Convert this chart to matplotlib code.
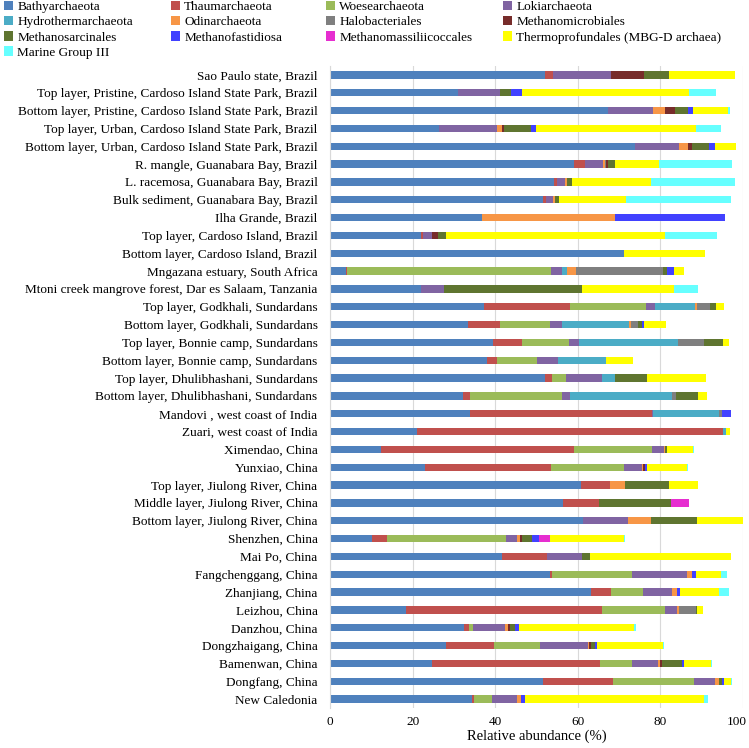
import matplotlib
matplotlib.use("Agg")
import matplotlib.pyplot as plt
import matplotlib.transforms as mtransforms
import numpy as np

plt.rcParams['font.family'] = ['Liberation Serif', 'DejaVu Serif']

# sites, top to bottom
sites = [
    "Sao Paulo state, Brazil",
    "Top layer, Pristine, Cardoso Island State Park, Brazil",
    "Bottom layer, Pristine, Cardoso Island State Park, Brazil",
    "Top layer, Urban, Cardoso Island State Park, Brazil",
    "Bottom layer, Urban, Cardoso Island State Park, Brazil",
    "R. mangle, Guanabara Bay, Brazil",
    "L. racemosa, Guanabara Bay, Brazil",
    "Bulk sediment, Guanabara Bay, Brazil",
    "Ilha Grande, Brazil",
    "Top layer, Cardoso Island, Brazil",
    "Bottom layer, Cardoso Island, Brazil",
    "Mngazana estuary, South Africa",
    "Mtoni creek mangrove forest, Dar es Salaam, Tanzania",
    "Top layer, Godkhali, Sundardans",
    "Bottom layer, Godkhali, Sundardans",
    "Top layer, Bonnie camp, Sundardans",
    "Bottom layer, Bonnie camp, Sundardans",
    "Top layer, Dhulibhashani, Sundardans",
    "Bottom layer, Dhulibhashani, Sundardans",
    "Mandovi , west coast of India",
    "Zuari, west coast of India",
    "Ximendao, China",
    "Yunxiao, China",
    "Top layer, Jiulong River, China",
    "Middle layer, Jiulong River, China",
    "Bottom layer, Jiulong River, China",
    "Shenzhen, China",
    "Mai Po, China",
    "Fangchenggang, China",
    "Zhanjiang, China",
    "Leizhou, China",
    "Danzhou, China",
    "Dongzhaigang, China",
    "Bamenwan, China",
    "Dongfang, China",
    "New Caledonia",
]

bathyarchaeota = [52.0, 31.1, 67.2, 26.4, 73.8, 59.1, 54.2, 51.5, 36.7, 22.0, 71.1, 3.9,
                  22.1, 37.2, 33.4, 39.5, 38.1, 52.0, 32.3, 34.0, 21.0, 12.3, 22.9, 60.7,
                  56.5, 61.2, 10.1, 41.6, 53.3, 63.3, 18.4, 32.4, 28.1, 24.6, 51.5, 34.3]
thaumarchaeota = [2.0, 0, 0, 0, 0, 2.6, 0.8, 0.8, 0, 0.6, 0, 0.3,
                  0, 20.9, 7.8, 6.9, 2.3, 1.7, 1.7, 43.9, 74.2, 46.8, 30.6, 7.0,
                  8.6, 0, 3.7, 11.0, 0.5, 4.8, 47.5, 1.2, 11.7, 40.7, 17.0, 0.5]
woesearchaeota = [0, 0, 0, 0, 0, 0, 0, 0, 0, 0, 0, 49.4,
                  0, 18.5, 12.0, 11.5, 9.7, 3.4, 22.2, 0, 0, 18.9, 17.7, 0,
                  0, 0, 28.7, 0, 19.3, 7.7, 15.1, 1.0, 11.0, 7.9, 19.6, 4.4]
lokiarchaeota = [14.0, 10.1, 10.9, 14.0, 10.6, 4.3, 2.0, 1.8, 0, 2.1, 0, 2.6,
                 5.6, 2.0, 2.9, 2.4, 5.2, 8.7, 1.9, 0.3, 0, 2.8, 4.4, 0,
                 0, 11.0, 2.7, 8.5, 13.3, 6.9, 3.0, 7.7, 11.6, 6.2, 5.2, 6.1]
hydrothermarchaeota = [0, 0, 0, 0, 0, 0, 0, 0, 0, 0, 0, 1.2,
                       0, 9.7, 16.3, 23.9, 11.6, 3.2, 24.7, 16.1, 0.8, 0, 0, 0,
                       0, 0, 0, 0, 0, 0, 0, 0, 0, 0, 0, 0]
odinarchaeota = [0, 0, 3.1, 1.2, 2.4, 0.5, 0.3, 0.3, 32.4, 0, 0, 2.2,
                 0, 0.5, 0.6, 0, 0, 0, 0, 0, 0, 0.3, 0.3, 3.7,
                 0, 5.6, 0.8, 0, 1.2, 1.3, 0.4, 0.7, 0.3, 0.5, 0.9, 1.0]
halobacteriales = [0, 0, 0, 0, 0, 0.3, 0, 0, 0, 0, 0, 21.0,
                   0, 3.2, 1.5, 6.3, 0, 0, 1.0, 0.6, 0, 0, 0, 0,
                   0, 0, 0, 0, 0, 0, 4.2, 0, 0, 0, 0, 0]
methanomicrobiales = [8.0, 0, 2.4, 0.6, 0.8, 0.5, 0, 0, 0, 1.4, 0, 0,
                      0, 0, 0, 0, 0, 0, 0, 0, 0, 0, 0.3, 0,
                      0, 0, 0.6, 0, 0, 0, 0, 0.6, 0.4, 0.5, 0, 0]
methanosarcinales = [6.0, 2.7, 3.0, 6.5, 4.1, 1.6, 1.3, 1.0, 0, 1.9, 0, 1.0,
                     33.4, 1.5, 1.0, 4.7, 0, 7.7, 5.3, 0, 0, 0.4, 0, 10.6,
                     17.5, 11.1, 2.2, 1.9, 0, 0, 0.2, 1.2, 1.0, 4.8, 0.6, 0]
methanofastidiosa = [0, 2.7, 1.2, 1.1, 1.6, 0, 0, 0, 26.5, 0, 0, 1.6,
                     0, 0, 0.6, 0, 0, 0, 0, 2.3, 0, 0, 0.5, 0,
                     0, 0, 1.7, 0, 1.0, 0.8, 0, 1.0, 0.5, 0.5, 0.5, 0.8]
methanomassiliicoccales = [0, 0, 0, 0, 0, 0, 0, 0, 0, 0, 0, 0,
                           0, 0, 0, 0, 0, 0, 0, 0, 0, 0, 0, 0,
                           4.3, 0, 2.7, 0, 0, 0, 0, 0, 0, 0, 0, 0]
thermoprofundales = [16.0, 40.4, 8.5, 38.9, 5.0, 10.8, 19.2, 16.2, 0, 53.1, 19.6, 2.5,
                     22.2, 1.9, 5.2, 1.5, 6.5, 14.3, 2.3, 0, 0.9, 6.4, 9.7, 7.2,
                     0, 11.1, 17.9, 34.1, 6.0, 9.5, 1.4, 27.7, 16.0, 6.5, 1.9, 43.4]
marine_group_iii = [0, 6.5, 0.6, 6.0, 0, 17.7, 20.2, 25.6, 0, 12.7, 0, 0,
                    5.7, 0, 0, 0, 0, 0, 0, 0, 0, 0.2, 0.4, 0,
                    0, 0, 0.3, 0, 1.5, 2.3, 0, 0.5, 0.2, 0.2, 0.2, 1.0]

taxa = [
    ("Bathyarchaeota", bathyarchaeota, "#4F81BD"),
    ("Thaumarchaeota", thaumarchaeota, "#C0504D"),
    ("Woesearchaeota", woesearchaeota, "#9BBB59"),
    ("Lokiarchaeota", lokiarchaeota, "#8064A2"),
    ("Hydrothermarchaeota", hydrothermarchaeota, "#4BACC6"),
    ("Odinarchaeota", odinarchaeota, "#F79646"),
    ("Halobacteriales", halobacteriales, "#7F7F7F"),
    ("Methanomicrobiales", methanomicrobiales, "#772C2A"),
    ("Methanosarcinales", methanosarcinales, "#5F7530"),
    ("Methanofastidiosa", methanofastidiosa, "#4141FF"),
    ("Methanomassiliicoccales", methanomassiliicoccales, "#E62ED0"),
    ("Thermoprofundales (MBG-D archaea)", thermoprofundales, "#FFFF00"),
    ("Marine Group III", marine_group_iii, "#66FFFF"),
]

fig = plt.figure(figsize=(7.49, 7.48), dpi=100)
ax = fig.add_axes([330 / 749, 1 - 708 / 748, 413 / 749, 642 / 748])

y = np.arange(len(sites))
left = np.zeros(len(sites))
handles = []
for name, vals, color in taxa:
    vals = np.array(vals, dtype=float)
    h = ax.barh(y, vals, left=left, height=0.42, color=color, label=name, linewidth=0)
    handles.append(h)
    left += vals

ax.set_ylim(len(sites) - 0.5, -0.5)
ax.set_xlim(0, 100)
ax.set_yticks(y)
ax.set_yticklabels(sites, fontsize=9.5)
ax.set_xticks([0, 20, 40, 60, 80, 100])
ax.tick_params(axis='y', length=0, pad=9)
ax.tick_params(axis='x', length=0, pad=6, labelsize=9.5)
ax.set_xlabel("Relative abundance (%)", fontsize=10.5, labelpad=1)
ax.grid(axis='x', color='#D9D9D9', linewidth=0.8)
ax.set_axisbelow(True)
for s in ['top', 'right', 'bottom']:
    ax.spines[s].set_visible(False)
ax.spines['left'].set_color('#D9D9D9')

# keep the "100" label inside the figure
last = ax.get_xticklabels()[-1]
last.set_ha('right')
last.set_transform(last.get_transform() +
                   mtransforms.ScaledTranslation(4 / 100, 0, fig.dpi_scale_trans))

# legend laid out in four columns, filled row by row
col_x = [4, 171, 326, 503]
for c in range(4):
    idx = list(range(c, len(taxa), 4))
    fig.legend([handles[i] for i in idx], [taxa[i][0] for i in idx],
               loc='upper left', bbox_to_anchor=(col_x[c] / 749, 1 - 1 / 748),
               frameon=False, fontsize=9.5, handlelength=0.7, handleheight=0.7,
               handletextpad=0.3, labelspacing=0.22, borderpad=0, borderaxespad=0)

fig.savefig("out.png", dpi=100)
